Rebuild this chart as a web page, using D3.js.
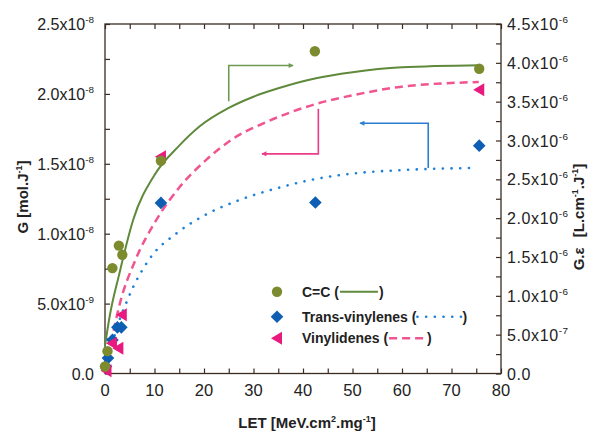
<!DOCTYPE html>
<html><head><meta charset="utf-8">
<script src="https://cdn.jsdelivr.net/npm/d3@7"></script>
<style>body{margin:0;background:#fff} svg{display:block}</style>
</head><body><svg id="c" width="594" height="433"></svg>
<script>
// ---- data (G in mol/J, LET in MeV.cm2/mg) ----
const ccX = [0, 0.5, 1.5, 2.8, 3.5, 11.3, 42.4, 75.6];
const ccY = [0.05e-8, 0.16e-8, 0.754e-8, 0.915e-8, 0.849e-8, 1.522e-8, 2.305e-8, 2.18e-8];
const tvX = [0.2, 0.6, 1.5, 2.5, 3.3, 11.3, 42.5, 75.6];
const tvY = [0.05e-8, 0.11e-8, 0.24e-8, 0.33e-8, 0.33e-8, 1.22e-8, 1.223e-8, 1.63e-8];
const viX = [0.3, 1.4, 2.7, 3.4, 11.3, 75.6];
const viY = [0.02e-8, 0.216e-8, 0.18e-8, 0.42e-8, 1.551e-8, 2.03e-8];
// fitted curves (G units)
const ccCurveX = [0, 1, 2.8, 5.7, 10, 15, 19.2, 25, 30, 35, 42.4, 50, 60, 75.8];
const ccCurveY = [0.2e-8, 0.42e-8, 0.70e-8, 1.10e-8, 1.42e-8, 1.63e-8, 1.77e-8, 1.90e-8, 1.98e-8, 2.04e-8, 2.11e-8, 2.155e-8, 2.19e-8, 2.205e-8];
const viCurveX = [0.3, 1, 3, 6, 10.4, 15, 20.5, 25.9, 32.7, 42.8, 50, 59.6, 75.5];
const viCurveY = [0.03e-8, 0.17e-8, 0.50e-8, 0.80e-8, 1.10e-8, 1.33e-8, 1.53e-8, 1.68e-8, 1.80e-8, 1.93e-8, 1.99e-8, 2.05e-8, 2.085e-8];
const tvCurveX = [0.3, 2, 4.7, 9.1, 14.5, 19.9, 27.3, 34.3, 41.8, 50, 60, 74];
const tvCurveY = [0.03e-8, 0.28e-8, 0.54e-8, 0.825e-8, 1.004e-8, 1.128e-8, 1.243e-8, 1.321e-8, 1.386e-8, 1.43e-8, 1.455e-8, 1.47e-8];
const xTicks = [0, 10, 20, 30, 40, 50, 60, 70, 80];
const yLTicks = [0, 0.5e-8, 1.0e-8, 1.5e-8, 2.0e-8, 2.5e-8];
const yRTicks = [0, 0.5e-6, 1.0e-6, 1.5e-6, 2.0e-6, 2.5e-6, 3.0e-6, 3.5e-6, 4.0e-6, 4.5e-6];
const legendNames = ["C=C (", "Trans-vinylenes (", "Vinylidenes ("];
// annotation arrows in data units (G)
const arrows = [
  {pts: [[25, 1.947e-8], [25, 2.203e-8], [38, 2.203e-8]], color: "#6e9a52"},
  {pts: [[43.1, 1.894e-8], [43.1, 1.571e-8], [31.7, 1.571e-8]], color: "#ea3c8a"},
  {pts: [[65.3, 1.47e-8], [65.3, 1.79e-8], [51.5, 1.79e-8]], color: "#2a7fd0"}
];

const green = "#7d8b2f", greenLine = "#5f8a3c";
const blue = "#0e5fb3", blueLine = "#1f82d8";
const pink = "#e8197f", pinkLine = "#f0558f";
const axisCol = "#3b2b22";
const FONT = "'Liberation Sans', Arial, sans-serif";

const svg = d3.select("#c");
const L = 105, R = 501, T = 24, B = 373.5;
const x = d3.scaleLinear().domain([0, 80]).range([L, R]);
const yL = d3.scaleLinear().domain([0, 2.5e-8]).range([B, T]);
const yR = d3.scaleLinear().domain([0, 4.5e-6]).range([B, T]);

function sci(v) {
  if (v === 0) return ["0.0", null];
  const e = Math.floor(Math.log10(v) + 1e-9);
  const m = (v / Math.pow(10, e)).toFixed(1);
  return [m + "x10", String(e)];
}

const xMinor = d3.range(0, 81, 5);
const yLMinor = d3.range(0, 11).map(i => i * 0.25e-8);
const yRMinor = d3.range(0, 19).map(i => i * 0.25e-6);

function tickGroup(axis, g) {
  g.call(axis);
  g.select(".domain").remove();
  g.selectAll("line").attr("stroke", axisCol).attr("stroke-width", 1.2);
  g.selectAll("text").remove();
}
tickGroup(d3.axisBottom(x).tickValues(xMinor).tickSize(-5), svg.append("g").attr("transform", `translate(0,${B})`));
tickGroup(d3.axisTop(x).tickValues(xMinor).tickSize(-5), svg.append("g").attr("transform", `translate(0,${T})`));
tickGroup(d3.axisLeft(yL).tickValues(yLMinor).tickSize(-5), svg.append("g").attr("transform", `translate(${L},0)`));
tickGroup(d3.axisRight(yR).tickValues(yRMinor).tickSize(-5), svg.append("g").attr("transform", `translate(${R},0)`));

svg.append("rect").attr("x", L).attr("y", T).attr("width", R - L).attr("height", B - T)
  .attr("fill", "none").attr("stroke", axisCol).attr("stroke-width", 1.3);

svg.append("g").selectAll("text").data(xTicks).join("text")
  .attr("x", d => x(d)).attr("y", B + 22).attr("text-anchor", "middle")
  .attr("font-family", FONT).attr("font-size", 16.5).attr("fill", "#222")
  .text(d => d);

function sciLabel(g, v, anchor, fs, ls) {
  const [m, e] = sci(v);
  const t = g.append("text").attr("font-family", FONT).attr("font-size", fs)
    .attr("fill", "#222").attr("text-anchor", anchor).attr("letter-spacing", ls);
  t.append("tspan").text(m);
  if (e) t.append("tspan").attr("font-size", fs * 0.62).attr("dy", -7).text(e);
  return t;
}
const gl = svg.append("g");
yLTicks.forEach(v => { sciLabel(gl, v, "end", 16, 0).attr("x", L - 11).attr("y", yL(v) + 6); });
const gr = svg.append("g");
yRTicks.forEach(v => { sciLabel(gr, v, "start", 16, 0.6).attr("x", R + 6).attr("y", yR(v) + 6); });

const xt = svg.append("text").attr("x", 307).attr("y", 428).attr("text-anchor", "middle")
  .attr("font-family", FONT).attr("font-size", 15).attr("font-weight", "bold").attr("fill", "#222");
xt.append("tspan").text("LET [MeV.cm");
xt.append("tspan").attr("font-size", 9).attr("dy", -6).text("2");
xt.append("tspan").attr("dy", 6).text(".mg");
xt.append("tspan").attr("font-size", 9).attr("dy", -6).text("-1");
xt.append("tspan").attr("dy", 6).text("]");

const ylt = svg.append("text").attr("transform", "translate(28,197) rotate(-90)")
  .attr("text-anchor", "middle").attr("font-family", FONT).attr("font-size", 15)
  .attr("font-weight", "bold").attr("fill", "#222");
ylt.append("tspan").text("G [mol.J");
ylt.append("tspan").attr("font-size", 9).attr("dy", -6).text("-1");
ylt.append("tspan").attr("dy", 6).text("]");

const yrt = svg.append("text").attr("transform", "translate(584,217) rotate(-90)")
  .attr("text-anchor", "middle").attr("font-family", FONT).attr("font-size", 15)
  .attr("font-weight", "bold").attr("fill", "#222");
yrt.append("tspan").text("G.ε ");
yrt.append("tspan").attr("dx", 6).text("[L.cm");
yrt.append("tspan").attr("font-size", 9).attr("dy", -6).text("-1");
yrt.append("tspan").attr("dy", 6).text(".J");
yrt.append("tspan").attr("font-size", 9).attr("dy", -6).text("-1");
yrt.append("tspan").attr("dy", 6).text("]");

const line = d3.line().x(d => x(d[0])).y(d => yL(d[1])).curve(d3.curveMonotoneX);
const plot = svg.append("g");
plot.append("path").datum(d3.zip(ccCurveX, ccCurveY)).attr("d", line)
  .attr("fill", "none").attr("stroke", greenLine).attr("stroke-width", 2);
plot.append("path").datum(d3.zip(viCurveX, viCurveY)).attr("d", line)
  .attr("fill", "none").attr("stroke", pinkLine).attr("stroke-width", 2.5).attr("stroke-dasharray", "8,5");
plot.append("path").datum(d3.zip(tvCurveX, tvCurveY)).attr("d", line)
  .attr("fill", "none").attr("stroke", blueLine).attr("stroke-width", 2.6)
  .attr("stroke-linecap", "round").attr("stroke-dasharray", "0.1,8.6");

const defs = svg.append("defs");
arrows.forEach((a, i) => {
  defs.append("marker").attr("id", "ah" + i).attr("viewBox", "0 0 10 10").attr("refX", 9).attr("refY", 5)
    .attr("markerWidth", 7).attr("markerHeight", 5).attr("orient", "auto").attr("markerUnits", "userSpaceOnUse")
    .append("path").attr("d", "M0,0L10,5L0,10Z").attr("fill", a.color);
  plot.append("path").datum(a.pts).attr("d", d3.line().x(d => x(d[0])).y(d => yL(d[1])))
    .attr("fill", "none").attr("stroke", a.color).attr("stroke-width", 1.6)
    .attr("marker-end", `url(#ah${i})`);
});

const circ = d3.symbol().type(d3.symbolCircle).size(85);
const diam = d3.symbol().type(d3.symbolSquare).size(80);
const triLeft = "M-6,0L5,-6.5L5,6.5Z";
plot.append("g").selectAll("path").data(d3.zip(tvX, tvY)).join("path")
  .attr("d", diam).attr("fill", blue)
  .attr("transform", d => `translate(${x(d[0])},${yL(d[1])}) rotate(45)`);
plot.append("g").selectAll("path").data(d3.zip(viX, viY)).join("path")
  .attr("d", triLeft).attr("fill", pink)
  .attr("transform", d => `translate(${x(d[0])},${yL(d[1])})`);
plot.append("g").selectAll("path").data(d3.zip(ccX, ccY)).join("path")
  .attr("d", circ).attr("fill", green)
  .attr("transform", d => `translate(${x(d[0])},${yL(d[1])})`);

const legY = [291.7, 316.7, 338.3];
const lg = svg.append("g");
const mk = [
  g => g.append("path").attr("d", circ).attr("fill", green),
  g => g.append("path").attr("d", diam).attr("fill", blue).attr("transform", "rotate(45)"),
  g => g.append("path").attr("d", triLeft).attr("fill", pink)
];
const sample = [
  {stroke: greenLine, w: 2, dash: null, len: 38},
  {stroke: blueLine, w: 2.6, dash: "0.1,8.6", len: 44, cap: "round"},
  {stroke: pinkLine, w: 2.5, dash: "8,5", len: 37}
];
legendNames.forEach((n, i) => {
  const g = lg.append("g").attr("transform", `translate(277,${legY[i]})`);
  mk[i](g);
  const t = g.append("text").attr("x", 25).attr("y", 5).attr("font-family", FONT)
    .attr("font-size", 14).attr("font-weight", "bold").attr("fill", "#222").text(n);
  const w = t.node().getComputedTextLength();
  const s = sample[i];
  const x0 = 25 + w + 1;
  const ln = g.append("line").attr("x1", x0).attr("x2", x0 + s.len).attr("y1", 0).attr("y2", 0)
    .attr("stroke", s.stroke).attr("stroke-width", s.w);
  if (s.dash) ln.attr("stroke-dasharray", s.dash);
  if (s.cap) ln.attr("stroke-linecap", s.cap);
  g.append("text").attr("x", x0 + s.len + 1).attr("y", 5).attr("font-family", FONT)
    .attr("font-size", 14).attr("font-weight", "bold").attr("fill", "#222").text(")");
});
</script></body></html>
